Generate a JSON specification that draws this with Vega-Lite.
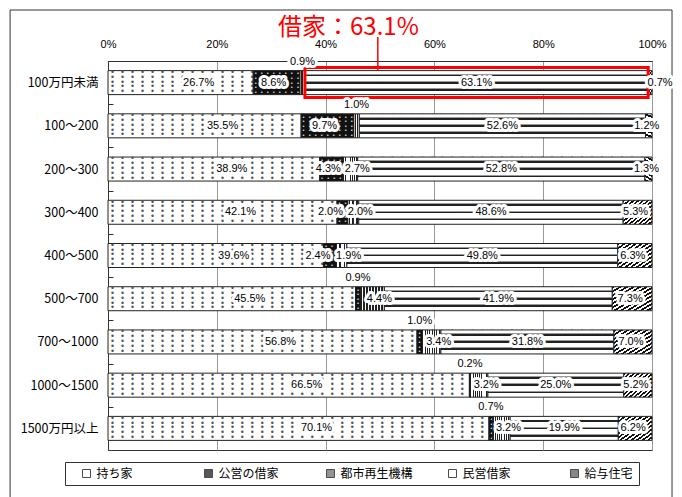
{
  "$schema": "https://vega.github.io/schema/vega-lite/v6.json",
  "width": 544,
  "height": 389,
  "autosize": {"type": "none"},
  "padding": {"left": 108, "top": 61, "right": 30, "bottom": 47},
  "background": "white",
  "config": {
    "view": {"stroke": "#333", "strokeWidth": 1},
    "font": "Noto Sans CJK JP"
  },
  "title": {"text": "借家：63.1%", "color": "#f00", "fontSize": 24, "font": "Noto Sans CJK JP", "fontWeight": "normal", "anchor": "start", "frame": "group", "dx": 170, "offset": -30},
  "data": {"values": [
    {"c":"100万円未満","s":"持ち家","k":1,"v":26.7},{"c":"100万円未満","s":"公営の借家","k":2,"v":8.6},{"c":"100万円未満","s":"都市再生機構","k":3,"v":0.9},{"c":"100万円未満","s":"民営借家","k":4,"v":63.1},{"c":"100万円未満","s":"給与住宅","k":5,"v":0.7},
    {"c":"100〜200","s":"持ち家","k":1,"v":35.5},{"c":"100〜200","s":"公営の借家","k":2,"v":9.7},{"c":"100〜200","s":"都市再生機構","k":3,"v":1.0},{"c":"100〜200","s":"民営借家","k":4,"v":52.6},{"c":"100〜200","s":"給与住宅","k":5,"v":1.2},
    {"c":"200〜300","s":"持ち家","k":1,"v":38.9},{"c":"200〜300","s":"公営の借家","k":2,"v":4.3},{"c":"200〜300","s":"都市再生機構","k":3,"v":2.7},{"c":"200〜300","s":"民営借家","k":4,"v":52.8},{"c":"200〜300","s":"給与住宅","k":5,"v":1.3},
    {"c":"300〜400","s":"持ち家","k":1,"v":42.1},{"c":"300〜400","s":"公営の借家","k":2,"v":2.0},{"c":"300〜400","s":"都市再生機構","k":3,"v":2.0},{"c":"300〜400","s":"民営借家","k":4,"v":48.6},{"c":"300〜400","s":"給与住宅","k":5,"v":5.3},
    {"c":"400〜500","s":"持ち家","k":1,"v":39.6},{"c":"400〜500","s":"公営の借家","k":2,"v":2.4},{"c":"400〜500","s":"都市再生機構","k":3,"v":1.9},{"c":"400〜500","s":"民営借家","k":4,"v":49.8},{"c":"400〜500","s":"給与住宅","k":5,"v":6.3},
    {"c":"500〜700","s":"持ち家","k":1,"v":45.5},{"c":"500〜700","s":"公営の借家","k":2,"v":0.9},{"c":"500〜700","s":"都市再生機構","k":3,"v":4.4},{"c":"500〜700","s":"民営借家","k":4,"v":41.9},{"c":"500〜700","s":"給与住宅","k":5,"v":7.3},
    {"c":"700〜1000","s":"持ち家","k":1,"v":56.8},{"c":"700〜1000","s":"公営の借家","k":2,"v":1.0},{"c":"700〜1000","s":"都市再生機構","k":3,"v":3.4},{"c":"700〜1000","s":"民営借家","k":4,"v":31.8},{"c":"700〜1000","s":"給与住宅","k":5,"v":7.0},
    {"c":"1000〜1500","s":"持ち家","k":1,"v":66.5},{"c":"1000〜1500","s":"公営の借家","k":2,"v":0.2},{"c":"1000〜1500","s":"都市再生機構","k":3,"v":3.2},{"c":"1000〜1500","s":"民営借家","k":4,"v":25.0},{"c":"1000〜1500","s":"給与住宅","k":5,"v":5.2},
    {"c":"1500万円以上","s":"持ち家","k":1,"v":70.1},{"c":"1500万円以上","s":"公営の借家","k":2,"v":0.7},{"c":"1500万円以上","s":"都市再生機構","k":3,"v":3.2},{"c":"1500万円以上","s":"民営借家","k":4,"v":19.9},{"c":"1500万円以上","s":"給与住宅","k":5,"v":6.2}
  ]},
  "transform": [
    {"stack": "v", "groupby": ["c"], "sort": [{"field": "k", "order": "ascending"}], "offset": "normalize", "as": ["x0", "x1"]},
    {"calculate": "(datum.x0 + datum.x1) / 2", "as": "mid"},
    {"calculate": "format(datum.v, '.1f') + '%'", "as": "lab"}
  ],
  "encoding": {
    "y": {
      "field": "c", "type": "nominal",
      "scale": {"domain": ["100万円未満","100〜200","200〜300","300〜400","400〜500","500〜700","700〜1000","1000〜1500","1500万円以上"], "paddingInner": 0, "paddingOuter": 0},
      "axis": {"title": null, "domainColor": "#333", "labelFont": "Noto Sans CJK JP", "labelFontSize": 12.5, "labelColor": "#000", "ticks": false, "tickBand": "extent", "labelPadding": 10, "grid": true, "gridColor": "#333", "gridDash": [5, 600]}
    }
  },
  "layer": [
    {
      "data": {"values": [{}]},
      "mark": {"type": "bar", "height": 491, "fill": "white", "fillOpacity": 0, "stroke": "#333", "strokeWidth": 1},
      "encoding": {
        "x": {"datum": -0.18, "type": "quantitative", "scale": {"domain": [0, 1], "nice": false, "zero": false}},
        "x2": {"datum": 1.0368},
        "y": {"datum": "400〜500"}
      }
    },
    {
      "transform": [{"filter": "datum.k == 1"}],
      "mark": {"type": "bar", "height": 24, "fill": "white", "stroke": "#222", "strokeWidth": 1},
      "encoding": {
        "x": {"field": "x0", "type": "quantitative", "scale": {"domain": [0, 1], "nice": false, "zero": false},
          "axis": {"orient": "top", "title": null, "values": [0, 0.2, 0.4, 0.6, 0.8, 1], "format": ".0%", "grid": true, "gridColor": "#999", "domainColor": "#333", "ticks": false, "labelFont": "Liberation Sans", "labelFontSize": 11, "labelColor": "#000", "labelPadding": 12, "labelFlush": false}},
        "x2": {"field": "x1"}
      }
    },
    {
      "data": {"values": [{}]},
      "mark": {"type": "rule", "color": "#f00", "strokeWidth": 1.5},
      "encoding": {
        "x": {"datum": 0.496, "type": "quantitative", "scale": {"domain": [0, 1], "nice": false, "zero": false}},
        "y": {"datum": "100万円未満", "bandPosition": -0.555},
        "y2": {"datum": "100万円未満"}
      }
    },
    {
      "transform": [{"filter": "datum.k == 1"}],
      "mark": {"type": "text", "align": "left", "baseline": "middle", "dx": 2, "dy": -9.6, "font": "DejaVu Sans Mono", "fontSize": 8.3, "lineHeight": 4.8, "fill": "#555",
        "text": [
          "• • • • • • • • • • • • • • • • • • • • • • • • • • • • • • • • • • • • • • • • • • • • • • • • • • • • • • ",
          " • • • • • • • • • • • • • • • • • • • • • • • • • • • • • • • • • • • • • • • • • • • • • • • • • • • • •",
          "• • • • • • • • • • • • • • • • • • • • • • • • • • • • • • • • • • • • • • • • • • • • • • • • • • • • • • ",
          " • • • • • • • • • • • • • • • • • • • • • • • • • • • • • • • • • • • • • • • • • • • • • • • • • • • • •",
          "• • • • • • • • • • • • • • • • • • • • • • • • • • • • • • • • • • • • • • • • • • • • • • • • • • • • • • "
        ]},
      "encoding": {"x": {"field": "x0", "type": "quantitative"}}
    },
    {
      "transform": [{"filter": "datum.k == 2"}],
      "mark": {"type": "bar", "height": 24, "fill": "#111", "stroke": "#222", "strokeWidth": 1},
      "encoding": {"x": {"field": "x0", "type": "quantitative"}, "x2": {"field": "x1"}}
    },
    {
      "transform": [{"filter": "datum.k == 2"}],
      "mark": {"type": "text", "align": "left", "baseline": "middle", "dx": 1, "dy": -9.2, "font": "DejaVu Sans Mono", "fontSize": 5, "lineHeight": 4.6, "fill": "#fff",
        "text": ["• • • • • • • • • ", " • • • • • • • • •", "• • • • • • • • • ", " • • • • • • • • •", "• • • • • • • • • "]},
      "encoding": {"x": {"field": "x0", "type": "quantitative"}}
    },
    {
      "transform": [{"filter": "datum.k == 3"}],
      "mark": {"type": "bar", "height": 24, "stroke": "#222", "strokeWidth": 1,
        "fill": {"gradient": "linear", "x1": 0, "y1": 0, "x2": 1, "y2": 0, "stops": [
          {"offset": 0, "color": "#222"}, {"offset": 0.05, "color": "#222"}, {"offset": 0.05, "color": "#fff"}, {"offset": 0.125, "color": "#fff"},
          {"offset": 0.125, "color": "#222"}, {"offset": 0.175, "color": "#222"}, {"offset": 0.175, "color": "#fff"}, {"offset": 0.25, "color": "#fff"},
          {"offset": 0.25, "color": "#222"}, {"offset": 0.3, "color": "#222"}, {"offset": 0.3, "color": "#fff"}, {"offset": 0.375, "color": "#fff"},
          {"offset": 0.375, "color": "#222"}, {"offset": 0.425, "color": "#222"}, {"offset": 0.425, "color": "#fff"}, {"offset": 0.5, "color": "#fff"},
          {"offset": 0.5, "color": "#222"}, {"offset": 0.55, "color": "#222"}, {"offset": 0.55, "color": "#fff"}, {"offset": 0.625, "color": "#fff"},
          {"offset": 0.625, "color": "#222"}, {"offset": 0.675, "color": "#222"}, {"offset": 0.675, "color": "#fff"}, {"offset": 0.75, "color": "#fff"},
          {"offset": 0.75, "color": "#222"}, {"offset": 0.8, "color": "#222"}, {"offset": 0.8, "color": "#fff"}, {"offset": 0.875, "color": "#fff"},
          {"offset": 0.875, "color": "#222"}, {"offset": 0.925, "color": "#222"}, {"offset": 0.925, "color": "#fff"}, {"offset": 1, "color": "#fff"}
        ]}},
      "encoding": {"x": {"field": "x0", "type": "quantitative"}, "x2": {"field": "x1"}}
    },
    {
      "transform": [{"filter": "datum.k == 4"}],
      "mark": {"type": "bar", "height": 24, "stroke": "#222", "strokeWidth": 1,
        "fill": {"gradient": "linear", "x1": 0, "y1": 0, "x2": 0, "y2": 1, "stops": [
          {"offset": 0, "color": "#fff"}, {"offset": 0.13, "color": "#fff"}, {"offset": 0.13, "color": "#999"}, {"offset": 0.17, "color": "#999"}, {"offset": 0.17, "color": "#222"}, {"offset": 0.24, "color": "#222"}, {"offset": 0.24, "color": "#fff"},
          {"offset": 0.43, "color": "#fff"}, {"offset": 0.43, "color": "#999"}, {"offset": 0.47, "color": "#999"}, {"offset": 0.47, "color": "#222"}, {"offset": 0.54, "color": "#222"}, {"offset": 0.54, "color": "#fff"},
          {"offset": 0.73, "color": "#fff"}, {"offset": 0.73, "color": "#999"}, {"offset": 0.77, "color": "#999"}, {"offset": 0.77, "color": "#222"}, {"offset": 0.84, "color": "#222"}, {"offset": 0.84, "color": "#fff"},
          {"offset": 1, "color": "#fff"}
        ]}},
      "encoding": {"x": {"field": "x0", "type": "quantitative"}, "x2": {"field": "x1"}}
    },
    {
      "transform": [{"filter": "datum.k == 5"}],
      "mark": {"type": "bar", "height": 24, "stroke": "#222", "strokeWidth": 1,
        "fill": {"gradient": "linear", "x1": 0, "y1": 0, "x2": 1, "y2": 1, "stops": [
          {"offset": 0, "color": "#111"}, {"offset": 0.0417, "color": "#111"}, {"offset": 0.0417, "color": "#fff"}, {"offset": 0.0833, "color": "#fff"},
          {"offset": 0.0833, "color": "#111"}, {"offset": 0.125, "color": "#111"}, {"offset": 0.125, "color": "#fff"}, {"offset": 0.1667, "color": "#fff"},
          {"offset": 0.1667, "color": "#111"}, {"offset": 0.2083, "color": "#111"}, {"offset": 0.2083, "color": "#fff"}, {"offset": 0.25, "color": "#fff"},
          {"offset": 0.25, "color": "#111"}, {"offset": 0.2917, "color": "#111"}, {"offset": 0.2917, "color": "#fff"}, {"offset": 0.3333, "color": "#fff"},
          {"offset": 0.3333, "color": "#111"}, {"offset": 0.375, "color": "#111"}, {"offset": 0.375, "color": "#fff"}, {"offset": 0.4167, "color": "#fff"},
          {"offset": 0.4167, "color": "#111"}, {"offset": 0.4583, "color": "#111"}, {"offset": 0.4583, "color": "#fff"}, {"offset": 0.5, "color": "#fff"},
          {"offset": 0.5, "color": "#111"}, {"offset": 0.5417, "color": "#111"}, {"offset": 0.5417, "color": "#fff"}, {"offset": 0.5833, "color": "#fff"},
          {"offset": 0.5833, "color": "#111"}, {"offset": 0.625, "color": "#111"}, {"offset": 0.625, "color": "#fff"}, {"offset": 0.6667, "color": "#fff"},
          {"offset": 0.6667, "color": "#111"}, {"offset": 0.7083, "color": "#111"}, {"offset": 0.7083, "color": "#fff"}, {"offset": 0.75, "color": "#fff"},
          {"offset": 0.75, "color": "#111"}, {"offset": 0.7917, "color": "#111"}, {"offset": 0.7917, "color": "#fff"}, {"offset": 0.8333, "color": "#fff"},
          {"offset": 0.8333, "color": "#111"}, {"offset": 0.875, "color": "#111"}, {"offset": 0.875, "color": "#fff"}, {"offset": 0.9167, "color": "#fff"},
          {"offset": 0.9167, "color": "#111"}, {"offset": 0.9583, "color": "#111"}, {"offset": 0.9583, "color": "#fff"}, {"offset": 1, "color": "#fff"}
        ]}},
      "encoding": {"x": {"field": "x0", "type": "quantitative"}, "x2": {"field": "x1"}}
    },
    {
      "transform": [{"filter": "datum.k == 4 && datum.c == '100万円未満'"}],
      "mark": {"type": "bar", "height": 30, "fill": "white", "fillOpacity": 0, "stroke": "#f00", "strokeWidth": 3},
      "encoding": {"x": {"field": "x0", "type": "quantitative"}, "x2": {"field": "x1"}}
    },
    {
      "transform": [{"filter": "false"}],
      "mark": {"type": "square", "stroke": "#000", "strokeWidth": 1},
      "encoding": {
        "fill": {"field": "s", "type": "nominal",
          "scale": {"domain": ["持ち家","公営の借家","都市再生機構","民営借家","給与住宅"], "range": ["#ffffff","#111111","#666666","#ffffff","#555555"]},
          "legend": {"title": null, "orient": "none", "legendX": -43, "legendY": 401, "direction": "horizontal", "columns": 5, "gridAlign": "all", "columnPadding": 23, "symbolType": "square", "symbolSize": 64, "symbolOffset": 10, "symbolStrokeColor": "#000", "symbolStrokeWidth": 1, "labelFont": "Noto Sans CJK JP", "labelFontSize": 12, "labelColor": "#000", "labelOffset": 4, "strokeColor": "#333", "fillColor": "white", "padding": 5.5}}
      }
    },
    {
      "transform": [{"filter": "datum.k == 1"}],
      "encoding": {"x": {"field": "mid", "type": "quantitative"}, "text": {"field": "lab", "type": "nominal"}},
      "layer": [
        {"mark": {"type": "text", "dx": 18, "font": "Liberation Sans", "fontSize": 11, "fill": "white", "stroke": "white", "strokeWidth": 6, "strokeJoin": "round"}},
        {"mark": {"type": "text", "dx": 18, "font": "Liberation Sans", "fontSize": 11, "fill": "#000"}}
      ]
    },
    {
      "transform": [{"filter": "datum.k == 2 && datum.v >= 4"}],
      "encoding": {"x": {"field": "mid", "type": "quantitative"}, "text": {"field": "lab", "type": "nominal"}},
      "layer": [
        {"mark": {"type": "text", "dx": -3, "font": "Liberation Sans", "fontSize": 11, "fill": "white", "stroke": "white", "strokeWidth": 6, "strokeJoin": "round"}},
        {"mark": {"type": "text", "dx": -3, "font": "Liberation Sans", "fontSize": 11, "fill": "#000"}}
      ]
    },
    {
      "transform": [{"filter": "datum.k == 2 && datum.v >= 1.1 && datum.v < 4"}],
      "encoding": {"x": {"field": "mid", "type": "quantitative"}, "text": {"field": "lab", "type": "nominal"}},
      "layer": [
        {"mark": {"type": "text", "dx": -12, "font": "Liberation Sans", "fontSize": 11, "fill": "white", "stroke": "white", "strokeWidth": 6, "strokeJoin": "round"}},
        {"mark": {"type": "text", "dx": -12, "font": "Liberation Sans", "fontSize": 11, "fill": "#000"}}
      ]
    },
    {
      "transform": [{"filter": "datum.k == 3 && datum.v >= 1.1"}],
      "encoding": {"x": {"field": "mid", "type": "quantitative"}, "text": {"field": "lab", "type": "nominal"}},
      "layer": [
        {"mark": {"type": "text", "dx": 7, "font": "Liberation Sans", "fontSize": 11, "fill": "white", "stroke": "white", "strokeWidth": 6, "strokeJoin": "round"}},
        {"mark": {"type": "text", "dx": 7, "font": "Liberation Sans", "fontSize": 11, "fill": "#000"}}
      ]
    },
    {
      "transform": [{"filter": "datum.k == 4"}],
      "encoding": {"x": {"field": "mid", "type": "quantitative"}, "text": {"field": "lab", "type": "nominal"}},
      "layer": [
        {"mark": {"type": "text", "font": "Liberation Sans", "fontSize": 11, "fill": "white", "stroke": "white", "strokeWidth": 6, "strokeJoin": "round"}},
        {"mark": {"type": "text", "font": "Liberation Sans", "fontSize": 11, "fill": "#000"}}
      ]
    },
    {
      "transform": [{"filter": "datum.k == 5 && datum.v >= 1"}],
      "encoding": {"x": {"field": "mid", "type": "quantitative"}, "text": {"field": "lab", "type": "nominal"}},
      "layer": [
        {"mark": {"type": "text", "dx": -2, "font": "Liberation Sans", "fontSize": 11, "fill": "white", "stroke": "white", "strokeWidth": 6, "strokeJoin": "round"}},
        {"mark": {"type": "text", "dx": -2, "font": "Liberation Sans", "fontSize": 11, "fill": "#000"}}
      ]
    },
    {
      "transform": [{"filter": "(datum.k == 2 || datum.k == 3) && datum.v < 1.1"}],
      "encoding": {"x": {"field": "mid", "type": "quantitative"}, "text": {"field": "lab", "type": "nominal"}},
      "layer": [
        {"mark": {"type": "text", "dy": -21, "font": "Liberation Sans", "fontSize": 11, "fill": "white", "stroke": "white", "strokeWidth": 6, "strokeJoin": "round"}},
        {"mark": {"type": "text", "dy": -21, "font": "Liberation Sans", "fontSize": 11, "fill": "#000"}}
      ]
    },
    {
      "transform": [{"filter": "datum.k == 5 && datum.v < 1"}],
      "encoding": {"x": {"field": "mid", "type": "quantitative"}, "text": {"field": "lab", "type": "nominal"}},
      "layer": [
        {"mark": {"type": "text", "dx": 10, "font": "Liberation Sans", "fontSize": 11, "fill": "white", "stroke": "white", "strokeWidth": 6, "strokeJoin": "round"}},
        {"mark": {"type": "text", "dx": 10, "font": "Liberation Sans", "fontSize": 11, "fill": "#000"}}
      ]
    }
  ]
}
